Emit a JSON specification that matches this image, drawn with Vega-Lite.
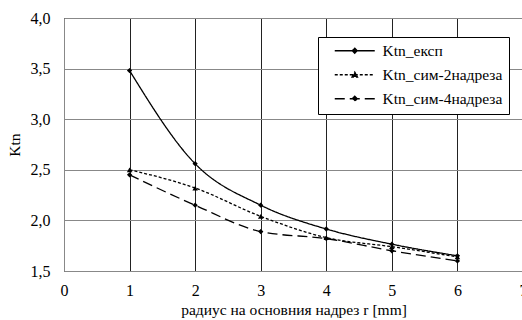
{
  "$schema": "https://vega.github.io/schema/vega-lite/v6.json",
  "width": 459,
  "height": 253,
  "autosize": {"type": "none"},
  "padding": {"left": 64, "top": 18, "right": 0, "bottom": 49},
  "background": "white",
  "config": {"font": "Times New Roman", "view": {"stroke": "black", "strokeWidth": 1},
    "axis": {"labelFont": "Times New Roman", "titleFont": "Times New Roman"},
    "legend": {"labelFont": "Times New Roman"}},
  "data": {"values": [
    {"r": 1, "Ktn": 3.48, "series": "Ktn_експ"},
    {"r": 2, "Ktn": 2.56, "series": "Ktn_експ"},
    {"r": 3, "Ktn": 2.15, "series": "Ktn_експ"},
    {"r": 4, "Ktn": 1.915, "series": "Ktn_експ"},
    {"r": 5, "Ktn": 1.765, "series": "Ktn_експ"},
    {"r": 6, "Ktn": 1.65, "series": "Ktn_експ"},
    {"r": 1, "Ktn": 2.5, "series": "Ktn_сим-2надреза"},
    {"r": 2, "Ktn": 2.32, "series": "Ktn_сим-2надреза"},
    {"r": 3, "Ktn": 2.04, "series": "Ktn_сим-2надреза"},
    {"r": 4, "Ktn": 1.83, "series": "Ktn_сим-2надреза"},
    {"r": 5, "Ktn": 1.74, "series": "Ktn_сим-2надреза"},
    {"r": 6, "Ktn": 1.64, "series": "Ktn_сим-2надреза"},
    {"r": 1, "Ktn": 2.45, "series": "Ktn_сим-4надреза"},
    {"r": 2, "Ktn": 2.15, "series": "Ktn_сим-4надреза"},
    {"r": 3, "Ktn": 1.89, "series": "Ktn_сим-4надреза"},
    {"r": 4, "Ktn": 1.82, "series": "Ktn_сим-4надреза"},
    {"r": 5, "Ktn": 1.7, "series": "Ktn_сим-4надреза"},
    {"r": 6, "Ktn": 1.6, "series": "Ktn_сим-4надреза"}
  ]},
  "layer": [
    {
      "mark": {"type": "line", "interpolate": "monotone", "strokeWidth": 1.3, "color": "black"},
      "encoding": {
        "x": {"field": "r", "type": "quantitative", "scale": {"domain": [0, 7], "nice": false},
          "axis": {"values": [0,1,2,3,4,5,6,7], "format": "d", "grid": true, "gridColor": "#222", "gridOpacity": 1, "gridWidth": 1,
            "domain": true, "domainColor": "#888", "ticks": false, "labelFlush": false, "labelOverlap": false,
            "labelFontSize": 16, "labelColor": "black", "labelPadding": 11,
            "title": "радиус на основния надрез r [mm]", "titleFontSize": 15.5, "titleFontWeight": "normal", "titleColor": "black", "titlePadding": 4}},
        "y": {"field": "Ktn", "type": "quantitative", "scale": {"domain": [1.5, 4], "nice": false, "zero": false},
          "axis": {"values": [1.5,2,2.5,3,3.5,4], "grid": true, "gridColor": "#888", "gridOpacity": 1, "gridWidth": 1,
            "domain": true, "domainColor": "#888", "ticks": false,
            "labelExpr": "replace(format(datum.value, '.1f'), '.', ',')",
            "labelFontSize": 16, "labelColor": "black", "labelPadding": 14,
            "title": "Ktn", "titleFontSize": 15.5, "titleFontWeight": "normal", "titleColor": "black", "titlePadding": 8}},
        "strokeDash": {"field": "series", "type": "nominal",
          "scale": {"domain": ["Ktn_експ", "Ktn_сим-2надреза", "Ktn_сим-4надреза"], "range": [[1, 0], [3, 2], [10, 5]]},
          "legend": {"orient": "none", "legendX": 254, "legendY": 19, "title": null,
            "strokeColor": "black", "fillColor": "white", "padding": 6,
            "labelFontSize": 15.5, "labelColor": "black", "labelOffset": 20, "rowPadding": 7,
            "symbolType": "M-4,0L4,0M-0.5,0L0,-0.5L0.5,0L0,0.5Z", "symbolSize": 100,
            "symbolStrokeWidth": 1.3, "symbolStrokeColor": "black", "symbolFillColor": "black", "symbolOffset": 23,
            "encode": {"symbols": {"update": {
              "shape": {"signal": "datum.value === 'Ktn_сим-2надреза' ? 'M-4,0L4,0M-0.55,0.45L0,-0.55L0.55,0.45Z' : 'M-4,0L4,0M-0.5,0L0,-0.5L0.5,0L0,0.5Z'"},
              "fill": {"value": "black"}, "stroke": {"value": "black"},
              "strokeWidth": {"value": 1.3}, "strokeOpacity": {"value": 1}, "opacity": {"value": 1}}}}}
        }
      }
    },
    {
      "transform": [{"filter": "datum.series !== 'Ktn_сим-2надреза'"}],
      "mark": {"type": "point", "filled": true, "color": "black", "opacity": 1, "shape": "diamond", "size": 28},
      "encoding": {
        "x": {"field": "r", "type": "quantitative"},
        "y": {"field": "Ktn", "type": "quantitative"}
      }
    },
    {
      "transform": [{"filter": "datum.series === 'Ktn_сим-2надреза'"}],
      "mark": {"type": "point", "filled": true, "color": "black", "opacity": 1, "shape": "triangle-up", "size": 30},
      "encoding": {
        "x": {"field": "r", "type": "quantitative"},
        "y": {"field": "Ktn", "type": "quantitative"}
      }
    }
  ]
}
